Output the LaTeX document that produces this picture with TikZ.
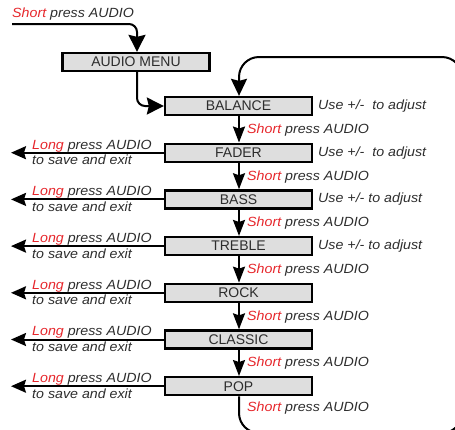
\documentclass[tikz,border=0pt]{standalone}
\usepackage{fontspec}
\setmainfont{Liberation Sans}
\newfontfamily\labfont[FakeStretch=1.07]{Liberation Sans}
\usetikzlibrary{arrows.meta}
\definecolor{boxgray}{RGB}{222,222,222}
\definecolor{textgray}{RGB}{45,45,45}
\definecolor{pressred}{RGB}{230,38,43}
\newcommand{\shortpress}{\textcolor{pressred}{Short} press AUDIO}
\newcommand{\longpress}{\textcolor{pressred}{Long} press AUDIO}

\begin{document}
\begin{tikzpicture}[x=1pt, y=-1pt,
    menubox/.style={draw, line width=2.3pt, fill=boxgray, minimum width=147pt, minimum height=18pt, inner sep=0pt, text=textgray, font=\fontsize{14}{16}\selectfont},
    lab/.style={anchor=base west, inner sep=0pt, text=textgray, font=\labfont\itshape\fontsize{13.3}{15}\selectfont},
    flow/.style={line width=2pt, -{Stealth[length=16pt, width=12pt, inset=2pt]}},
    bigflow/.style={line width=2pt, rounded corners=8pt, -{Stealth[length=17pt, width=17pt, inset=2pt]}},
    exit/.style={line width=2pt, -{Stealth[length=15pt, width=13pt, inset=2pt]}}]
    \useasboundingbox (0,0) rectangle (455,429);
    \clip (0,0) rectangle (455,429);

    % Menu boxes
    \node[menubox] (menu) at (136,62) {AUDIO MENU};
    \node[menubox] (balance) at (238.5,106) {BALANCE};
    \node[menubox] (fader) at (238.5,152.7) {FADER};
    \node[menubox] (bass) at (238.5,199.4) {BASS};
    \node[menubox] (treble) at (238.5,246.1) {TREBLE};
    \node[menubox] (rock) at (238.5,292.8) {ROCK};
    \node[menubox] (classic) at (238.5,339.5) {CLASSIC};
    \node[menubox] (pop) at (238.5,386.2) {POP};

    % Entry
    \coordinate (start) at (12,24);
    \node[lab] (startlab) at (12,17) {\shortpress};
    \draw[bigflow] (start) -- (137,24) -- (menu.north -| 137,0);
    \draw[bigflow] (menu.south -| 137,0) -- (137,106) -- (balance.west);

    % Short press steps
    \foreach \a/\b in {balance/fader, fader/bass, bass/treble, treble/rock, rock/classic, classic/pop}
        \draw[flow] (\a.south -| 239,0) -- (\b.north -| 239,0);
    \foreach \a in {balance, fader, bass, treble, rock, classic}
        \node[lab] at ([yshift=-27.3pt]\a.center -| 247,0) {\shortpress};
    \node[lab] (poplab) at ([yshift=-25.5pt]pop.center -| 247,0) {\shortpress};

    % Adjust labels
    \foreach \a/\t in {balance/{+/-\ \ to}, fader/{+/-\ \ to}, bass/{+/- to}, treble/{+/- to}}
        \node[lab, anchor=west] at (\a.center -| 318,0) {Use \t\ adjust};

    % Long press exits
    \foreach \a in {fader, bass, treble, rock, classic, pop} {
        \coordinate (\a-exit) at (\a.center -| 11,0);
        \draw[exit] (\a.west) -- (\a-exit);
        \node[lab] at ([yshift=3.7pt]\a.center -| 32,0) {\longpress};
        \node[lab] at ([yshift=-12pt]\a.center -| 32,0) {to save and exit};
    }

    % Loop back to balance
    \coordinate (loopbl) at (239,433);
    \coordinate (loopbr) at (462,433);
    \coordinate (looptr) at (462,57);
    \coordinate (looptl) at (239,57);
    \draw[line width=2pt, rounded corners=20pt, -{Stealth[length=17pt, width=16pt, inset=2pt]}]
        (pop.south -| 239,0) -- (loopbl) -- (loopbr) -- (looptr) -- (looptl) -- (balance.north -| 239,0);
\end{tikzpicture}
\end{document}
